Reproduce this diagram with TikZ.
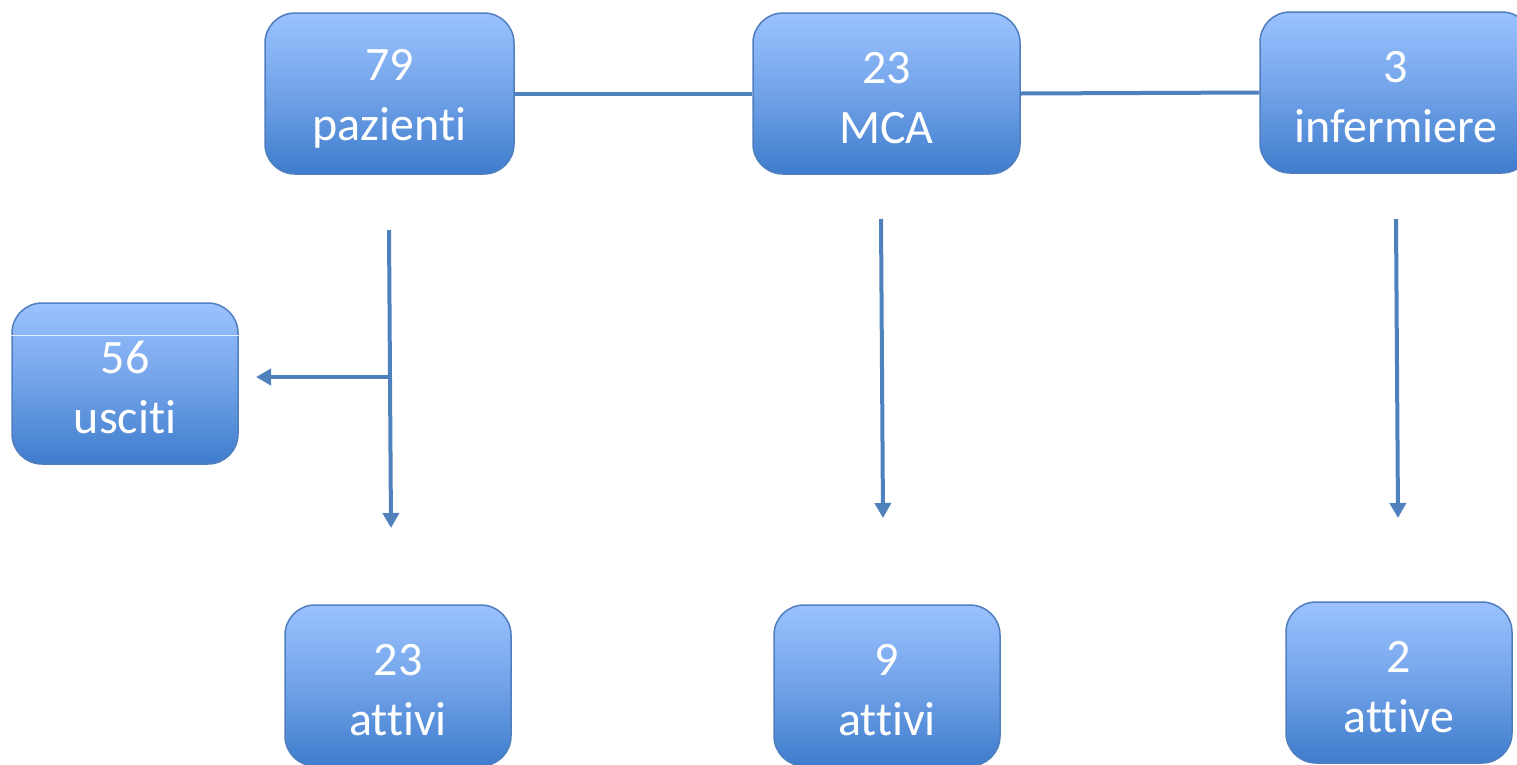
\documentclass[tikz,border=0pt]{standalone}
\usepackage{fontspec}
\setmainfont[Ligatures=NoCommon]{Carlito}
\usetikzlibrary{arrows.meta}
\definecolor{boxtop}{RGB}{155,194,255}
\definecolor{boxbot}{RGB}{62,124,204}
\definecolor{boxline}{RGB}{80,126,190}
\definecolor{conn}{RGB}{79,129,189}
\newcommand{\twoline}[2]{\rule{0pt}{41pt}#1\\#2}
\tikzset{
  box/.style={draw=boxline, line width=1.5pt, rounded corners=30pt,
    top color=boxtop, bottom color=boxbot, middle color=boxtop!55!boxbot,
    text=white, align=center, inner sep=0pt,
    font=\fontsize{48}{60}\selectfont},
  conn/.style={draw=conn, line width=4pt},
  arr/.style={conn, -{Triangle[length=15pt,width=16pt]}}
}
\begin{document}
\begin{tikzpicture}[x=1pt,y=-1pt]
\useasboundingbox (0,0) rectangle (1517,764);
\fill[white] (0,0) rectangle (1517,764);
\node[box, minimum width=249pt, minimum height=161pt] (paz) at (389.5,93.5) {\twoline{79}{pazienti}};
\node[box, minimum width=267pt, minimum height=161pt] (mca) at (886.5,93.5) {\twoline{23}{MCA}};
\node[box, minimum width=272pt, minimum height=161pt] (inf) at (1396,92.5) {\twoline{3}{infermiere}};
\node[box, minimum width=226pt, minimum height=161pt] (usc) at (125,383.5) {\twoline{56}{usciti}};
\draw[white!70!boxtop, line width=0.8pt] (usc.west |- 0,335) -- (usc.east |- 0,335);
\node[box, minimum width=226pt, minimum height=161pt] (a23) at (398,685.5) {\twoline{23}{attivi}};
\node[box, minimum width=226pt, minimum height=161pt] (a9) at (887,685.5) {\twoline{9}{attivi}};
\node[box, minimum width=226pt, minimum height=161pt] (a2) at (1399,682.5) {\twoline{2}{attive}};
\draw[conn] (paz.east) -- (mca.west);
\draw[conn] (mca.east) -- (inf.west);
\coordinate (p1) at (389,230);
\coordinate (p2) at (391,528);
\coordinate (pb) at (389.5,377);
\coordinate (pl) at (256,377);
\coordinate (m1) at (881,219);
\coordinate (m2) at (883,518);
\coordinate (i1) at (1396,219);
\coordinate (i2) at (1398,518);
\draw[arr] (p1) -- (p2);
\draw[arr] (pb) -- (pl);
\draw[arr] (m1) -- (m2);
\draw[arr] (i1) -- (i2);
\end{tikzpicture}
\end{document}
